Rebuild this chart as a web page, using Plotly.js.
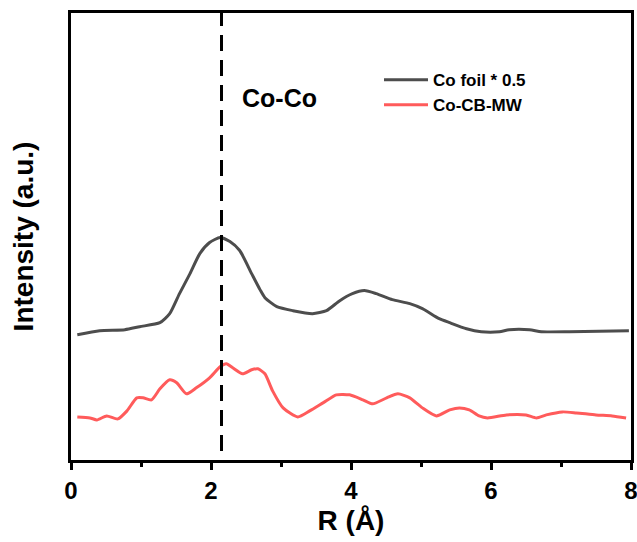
<!DOCTYPE html>
<html>
<head>
<meta charset="utf-8">
<script src="https://cdn.plot.ly/plotly-3.0.1.min.js"></script>
<style>html,body{margin:0;padding:0;background:#fff;}#chart{width:637px;height:542px;}</style>
</head>
<body>
<div id="chart"></div>
<script>
// Co foil * 0.5
const foilR = [0.09,0.41,0.77,0.98,1.27,1.41,1.55,1.70,1.84,1.98,2.13,2.27,2.41,2.58,2.70,2.77,2.94,3.17,3.45,3.65,3.84,4.02,4.19,4.36,4.59,4.84,5.02,5.26,5.41,5.65,5.86,6.12,6.26,6.55,6.72,7.12,7.97];
const foilI = [1.25,1.29,1.30,1.33,1.37,1.46,1.66,1.86,2.06,2.17,2.22,2.18,2.09,1.86,1.70,1.62,1.53,1.49,1.46,1.49,1.59,1.66,1.69,1.66,1.60,1.56,1.51,1.41,1.37,1.31,1.28,1.28,1.30,1.30,1.28,1.28,1.29];
// Co-CB-MW
const cbR = [0.09,0.27,0.37,0.51,0.67,0.80,0.94,1.03,1.15,1.27,1.41,1.51,1.65,1.79,1.98,2.13,2.22,2.31,2.45,2.58,2.67,2.77,2.88,3.03,3.24,3.41,3.60,3.79,3.98,4.17,4.31,4.51,4.67,4.84,5.02,5.22,5.41,5.55,5.69,5.83,5.95,6.22,6.50,6.65,6.79,7.02,7.22,7.50,7.73,7.93];
const cbI = [0.43,0.42,0.40,0.44,0.41,0.49,0.62,0.62,0.60,0.71,0.80,0.77,0.66,0.72,0.82,0.93,0.96,0.92,0.86,0.90,0.91,0.86,0.69,0.52,0.43,0.49,0.57,0.65,0.65,0.60,0.56,0.62,0.66,0.62,0.52,0.44,0.50,0.52,0.50,0.44,0.42,0.45,0.45,0.42,0.45,0.48,0.47,0.45,0.44,0.42];
const seriesNames = ["Co foil * 0.5", "Co-CB-MW"];
const xTicks = [0, 2, 4, 6, 8];
const peakR = 2.15;
const peakLabel = "Co-Co";

const F = "Liberation Sans, Arial, sans-serif";
const FN = "Liberation Sans Narrow, Arial Narrow, Liberation Sans, sans-serif";
const traces = [
  {x: foilR, y: foilI, name: seriesNames[0], mode: "lines", line: {color: "#4d4d4d", width: 3, shape: "spline", smoothing: 0.6}},
  {x: cbR, y: cbI, name: seriesNames[1], mode: "lines", line: {color: "#ff5b5b", width: 3, shape: "spline", smoothing: 0.6}}
];
const layout = {
  width: 637, height: 542,
  margin: {l: 71, r: 6, t: 13, b: 82},
  paper_bgcolor: "#fff", plot_bgcolor: "#fff",
  showlegend: true,
  legend: {x: 0.55, y: 0.89, xanchor: "left", yanchor: "top", bgcolor: "rgba(0,0,0,0)",
    itemwidth: 44, font: {family: F, size: 17, color: "#000", weight: "bold"}, tracegroupgap: 0},
  xaxis: {
    range: [0, 8], tickvals: xTicks, ticktext: xTicks.map(String),
    ticks: "outside", ticklen: 7, tickwidth: 3, tickcolor: "#000",
    ticklabeloverflow: "allow",
    minor: {dtick: 1, ticks: "outside", ticklen: 4, tickwidth: 3, tickcolor: "#000"},
    showline: true, linewidth: 3, linecolor: "#000", mirror: true,
    showgrid: false, zeroline: false,
    tickfont: {family: FN, size: 24, color: "#000", weight: "bold"},
    title: {text: "R (Å)", font: {family: F, size: 28, color: "#000", weight: "bold"}, standoff: 8}
  },
  yaxis: {
    range: [0, 4.46], showticklabels: false, ticks: "",
    showline: true, linewidth: 3, linecolor: "#000", mirror: true,
    showgrid: false, zeroline: false,
    title: {text: "Intensity (a.u.)", font: {family: F, size: 28, color: "#000", weight: "bold"}, standoff: 27}
  },
  shapes: [
    {type: "line", xref: "x", yref: "paper", x0: peakR, x1: peakR, y0: 0.02, y1: 1.0,
     line: {color: "#000", width: 3, dash: "16px,9px"}}
  ],
  annotations: [
    {x: 2.98, y: 3.61, xref: "x", yref: "y", text: peakLabel, showarrow: false,
     font: {family: F, size: 25, color: "#000", weight: "bold"}}
  ]
};
Plotly.newPlot("chart", traces, layout, {staticPlot: true});
</script>
</body>
</html>
